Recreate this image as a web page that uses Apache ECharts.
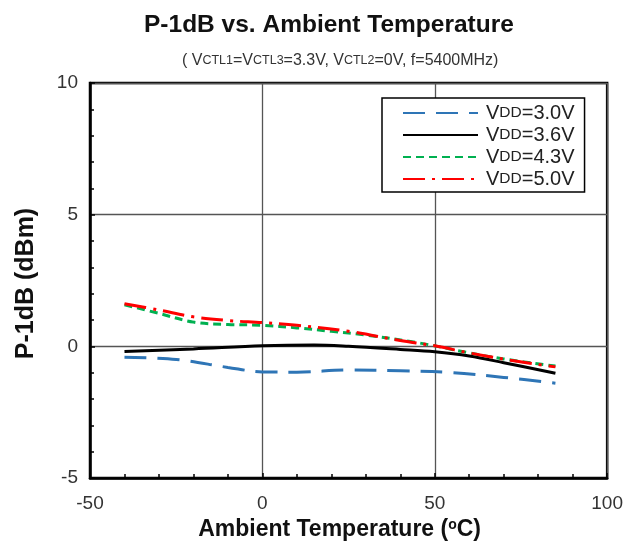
<!DOCTYPE html>
<html><head><meta charset="utf-8">
<script src="https://cdn.jsdelivr.net/npm/echarts@6/dist/echarts.min.js"></script>
<style>html,body{margin:0;padding:0;background:#fff}#c{width:626px;height:546px}</style>
</head><body><div id="c"></div>
<script>
const seriesNames = ['VDD=3.0V', 'VDD=3.6V', 'VDD=4.3V', 'VDD=5.0V'];
const vdd30 = [[-40,-0.41],[-25,-0.5],[-10,-0.8],[0,-0.97],[10,-0.98],[25,-0.9],[40,-0.93],[55,-1.0],[70,-1.18],[85,-1.4]];
const vdd36 = [[-40,-0.2],[-20,-0.1],[0,0.02],[15,0.05],[25,0.0],[40,-0.12],[50,-0.21],[60,-0.37],[70,-0.62],[85,-1.02]];
const vdd43 = [[-40,1.58],[-30,1.25],[-20,0.92],[-10,0.83],[0,0.8],[10,0.7],[20,0.57],[30,0.43],[45,0.14],[60,-0.25],[70,-0.48],[85,-0.75]];
const vdd50 = [[-40,1.62],[-30,1.38],[-20,1.12],[-10,0.98],[0,0.9],[10,0.8],[25,0.57],[40,0.22],[50,0.02],[60,-0.25],[72,-0.53],[85,-0.78]];
const xTicks = [-50, 0, 50, 100];
const yTicks = [-5, 0, 5, 10];

const FONT = '"Liberation Sans", Arial, sans-serif';
const chart = echarts.init(document.getElementById('c'));

const colors = ['#2E75B6', '#000000', '#00B050', '#FF0000'];
const dashes = [[22, 11], 'solid', [8, 5], [22, 7, 3, 7]];
const datasets = [vdd30, vdd36, vdd43, vdd50];

chart.setOption({
  animation: false,
  textStyle: { fontFamily: FONT },
  title: [
    { text: 'P-1dB vs. Ambient Temperature', left: 139, top: 8,
      textStyle: { fontFamily: FONT, fontSize: 24.5, fontWeight: 'bold', color: '#111' } },
    { text: '( V{s|CTL1}=V{s|CTL3}=3.3V, V{s|CTL2}=0V, f=5400MHz)', left: 177, top: 48,
      textStyle: { fontFamily: FONT, fontSize: 16, fontWeight: 'normal', color: '#333',
        rich: { s: { fontFamily: FONT, fontSize: 12.5, color: '#333' } } } }
  ],
  grid: { left: 90, right: 17, top: 83, bottom: 68, show: true, borderColor: '#000', borderWidth: 2.5, backgroundColor: 'transparent' },
  legend: {
    orient: 'vertical', left: 382, top: 98,
    padding: [5, 10, 3, 20], itemGap: 2,
    itemWidth: 75, itemHeight: 20,
    borderColor: '#000', borderWidth: 1.5,
    backgroundColor: '#fff',
    itemStyle: { opacity: 0 },
    data: seriesNames,
    formatter: function (n) { return '{a|V}{b|DD}{a|' + n.slice(3) + '}'; },
    textStyle: { padding: [0, 0, 0, 3],
      rich: { a: { fontFamily: FONT, fontSize: 20, color: '#222' }, b: { fontFamily: FONT, fontSize: 15.5, color: '#222' } } }
  },
  xAxis: {
    type: 'value', min: xTicks[0], max: xTicks[xTicks.length - 1], interval: 50,
    name: '{b|Ambient Temperature (}{s|o}{b|C)}', nameLocation: 'middle', nameGap: 37,
    nameTextStyle: { padding: [0, 18, 0, 0], rich: {
      b: { fontFamily: FONT, fontSize: 23, fontWeight: 'bold', color: '#111' },
      s: { fontFamily: FONT, fontSize: 14, fontWeight: 'bold', color: '#111', verticalAlign: 'top', padding: [0, 0, 9, 0] } } },
    axisLine: { show: true, onZero: false, lineStyle: { color: '#000', width: 2.5 } },
    axisTick: { show: true, inside: true, length: 5, lineStyle: { color: '#000', width: 1.5 } },
    minorTick: { show: true, splitNumber: 5, length: 4, lineStyle: { color: '#000', width: 1.5 } },
    axisLabel: { margin: 16, fontFamily: FONT, fontSize: 19, color: '#333' },
    splitLine: { show: true, lineStyle: { color: '#555', width: 1.3 } }
  },
  yAxis: {
    type: 'value', min: yTicks[0], max: yTicks[yTicks.length - 1], interval: 5,
    name: 'P-1dB (dBm)', nameLocation: 'middle', nameGap: 51, nameRotate: 90,
    nameTextStyle: { fontFamily: FONT, fontSize: 25, fontWeight: 'bold', color: '#111', padding: [0, 6, 0, 0] },
    axisLine: { show: true, onZero: false, lineStyle: { color: '#000', width: 2.5 } },
    axisTick: { show: true, inside: true, length: 5, lineStyle: { color: '#000', width: 1.5 } },
    minorTick: { show: true, splitNumber: 5, length: 4, lineStyle: { color: '#000', width: 1.5 } },
    axisLabel: { margin: 12, fontFamily: FONT, fontSize: 19, color: '#333' },
    splitLine: { show: true, lineStyle: { color: '#555', width: 1.3 } }
  },
  series: datasets.map((d, i) => ({
    name: seriesNames[i], type: 'line', data: d, smooth: 0.35,
    showSymbol: false, symbol: 'none',
    lineStyle: { color: colors[i], width: 3, type: dashes[i] },
    itemStyle: { color: colors[i] },
    z: 3 + (i === 1 ? 0 : i)
  }))
});
</script></body></html>
